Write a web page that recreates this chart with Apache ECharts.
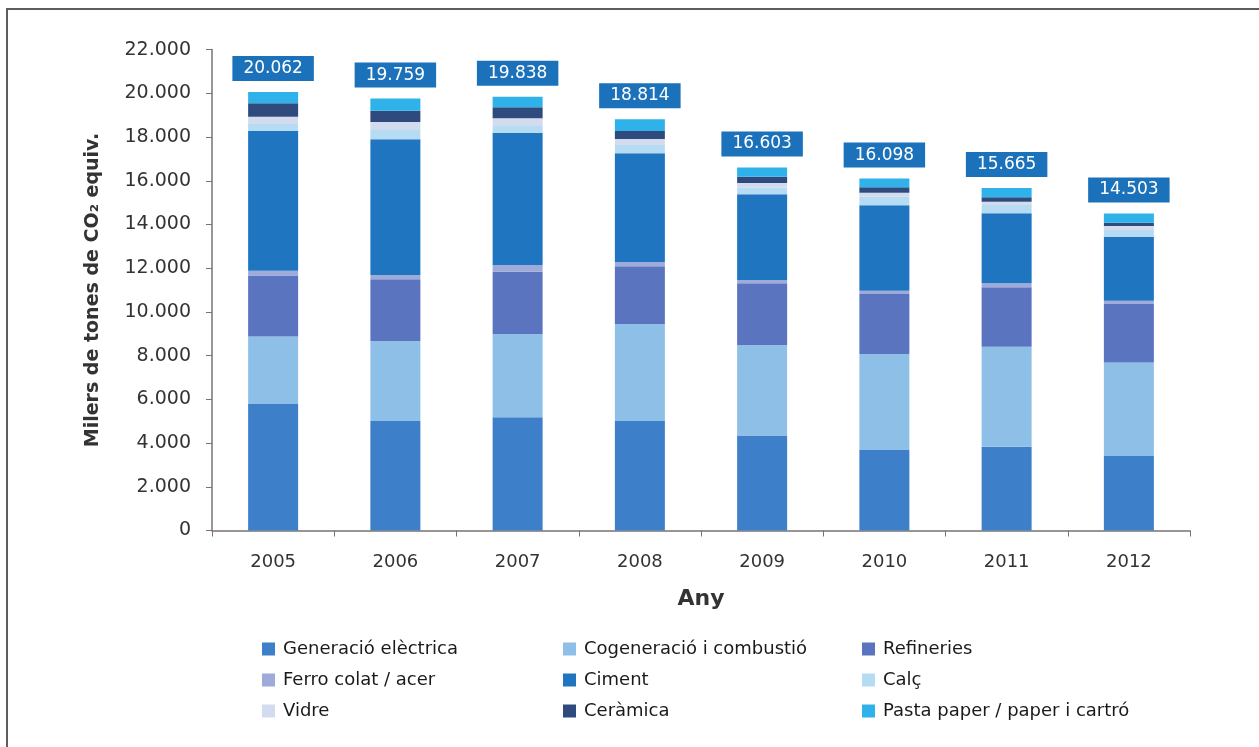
<!DOCTYPE html>
<html>
<head>
<meta charset="utf-8">
<script src="https://cdn.jsdelivr.net/npm/echarts@6/dist/echarts.min.js"></script>
<style>
  html, body { margin: 0; padding: 0; background: #ffffff; }
  #chart { width: 1259px; height: 747px; }
</style>
</head>
<body>
<div id="chart"></div>
<script>
// Emissions by sector, thousands of tonnes CO2 equivalent
const years = ['2005', '2006', '2007', '2008', '2009', '2010', '2011', '2012'];
const seriesNames = [
  'Generació elèctrica', 'Cogeneració i combustió', 'Refineries',
  'Ferro colat / acer', 'Ciment', 'Calç',
  'Vidre', 'Ceràmica', 'Pasta paper / paper i cartró'
];
const generacio   = [5790, 5010, 5180, 5010, 4350, 3680, 3830, 3410];
const cogeneracio = [3080, 3660, 3810, 4440, 4140, 4390, 4580, 4270];
const refineries  = [2790, 2820, 2850, 2640, 2820, 2750, 2720, 2680];
const ferro       = [220, 200, 310, 190, 150, 150, 180, 150];
const ciment      = [6400, 6210, 6050, 4980, 3920, 3910, 3200, 2930];
const calc        = [320, 420, 310, 370, 310, 390, 380, 310];
const vidre       = [330, 370, 350, 280, 210, 180, 150, 180];
const ceramica    = [610, 510, 500, 370, 280, 250, 200, 150];
const pasta       = [522, 559, 478, 534, 423, 398, 425, 423];
const yTicks = [0, 2000, 4000, 6000, 8000, 10000, 12000, 14000, 16000, 18000, 20000, 22000];

const colors = ['#3d7fc8', '#8dbfe7', '#5b74bf', '#9eaad9', '#1f75c0',
                '#b6dcf3', '#d3dbef', '#2f4b7e', '#2fb2e9'];

const stacks = [generacio, cogeneracio, refineries, ferro, ciment, calc, vidre, ceramica, pasta];
const totals = years.map((_, i) => stacks.reduce((s, arr) => s + arr[i], 0));

function fmt(v) {
  return String(v).replace(/\B(?=(\d{3})+(?!\d))/g, '.');
}

const FONT = 'DejaVu Sans';
const TEXT = '#333333';

const series = stacks.map((data, k) => {
  const s = {
    name: seriesNames[k],
    type: 'bar',
    stack: 'total',
    barWidth: 50,
    data: data,
    itemStyle: { color: colors[k] },
    emphasis: { disabled: true }
  };
  if (k === stacks.length - 1) {
    s.label = {
      show: true,
      position: 'top',
      distance: 11,
      formatter: p => fmt(totals[p.dataIndex]),
      color: '#ffffff',
      fontFamily: FONT,
      fontSize: 17,
      backgroundColor: '#1c72ba',
      padding: [4, 11, 4, 11]
    };
  }
  return s;
});

const legendCols = [
  [seriesNames[0], seriesNames[3], seriesNames[6]],
  [seriesNames[1], seriesNames[4], seriesNames[7]],
  [seriesNames[2], seriesNames[5], seriesNames[8]]
];
const legendLeft = [257, 558, 857];
const legends = legendCols.map((names, i) => ({
  data: names,
  orient: 'vertical',
  left: legendLeft[i],
  top: 635,
  itemWidth: 13,
  itemHeight: 13,
  itemGap: 13,
  selectedMode: false,
  icon: 'rect',
  textStyle: { fontFamily: FONT, fontSize: 18, color: '#1a1a1a', lineHeight: 18, padding: [0, 0, 0, 3] }
}));

const chart = echarts.init(document.getElementById('chart'));
chart.setOption({
  animation: false,
  backgroundColor: '#ffffff',
  grid: { left: 212, right: 69, top: 49.6, bottom: 216.5, containLabel: false },
  legend: legends,
  xAxis: {
    type: 'category',
    data: years,
    name: 'Any',
    nameLocation: 'middle',
    nameGap: 58,
    nameTextStyle: { fontFamily: FONT, fontSize: 22, fontWeight: 'bold', color: TEXT },
    axisLine: { lineStyle: { color: '#7a7370', width: 1.5 } },
    axisTick: { show: true, length: 6, lineStyle: { color: '#7a7370' } },
    axisLabel: { margin: 23, fontFamily: FONT, fontSize: 18, color: TEXT }
  },
  yAxis: {
    type: 'value',
    min: yTicks[0],
    max: yTicks[yTicks.length - 1],
    interval: yTicks[1] - yTicks[0],
    name: 'Milers de tones de CO₂ equiv.',
    nameLocation: 'middle',
    nameGap: 109,
    nameTextStyle: { fontFamily: FONT, fontSize: 19, fontWeight: 'bold', color: TEXT },
    axisLine: { show: true, lineStyle: { color: '#7a7370', width: 1.5 } },
    axisTick: { show: true, length: 6, lineStyle: { color: '#7a7370' } },
    splitLine: { show: false },
    axisLabel: { margin: 21, fontFamily: FONT, fontSize: 19, color: TEXT, formatter: v => fmt(v) }
  },
  graphic: [
    { type: 'rect', shape: { x: 6, y: 8, width: 1253, height: 2 }, style: { fill: '#5e5e5e' }, silent: true },
    { type: 'rect', shape: { x: 6, y: 8, width: 2, height: 739 }, style: { fill: '#5e5e5e' }, silent: true }
  ],
  series: series
});
</script>
</body>
</html>
